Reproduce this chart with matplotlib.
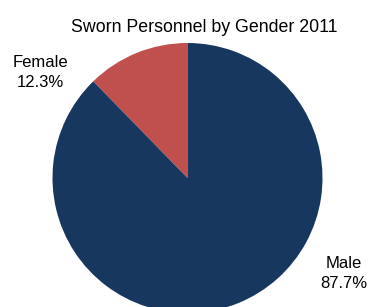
import matplotlib
matplotlib.use("Agg")
import matplotlib.pyplot as plt

categories = ["Female", "Male"]
values = [12.3, 87.7]
colors = ["#C0504D", "#17375E"]
title = "Sworn Personnel by Gender 2011"

W, H = 368, 307
fig = plt.figure(figsize=(W / 100, H / 100), dpi=100)
ax = fig.add_axes([0, 0, 1, 1])

cx, cy, r = 187.5, H - 178, 135
ax.pie(values, colors=colors, startangle=90, counterclock=True,
       center=(cx, cy), radius=r, frame=True,
       wedgeprops=dict(linewidth=0))
ax.set_xlim(0, W)
ax.set_ylim(0, H)
ax.set_aspect("equal")
ax.axis("off")

font = "Liberation Sans"
ax.text(204.5, H - 31.5, title, ha="center", va="baseline", fontsize=12.8, family=font)
label_pos = {"Female": (40.5, H - 67), "Male": (344, H - 268)}
for cat, val in zip(categories, values):
    x, y = label_pos[cat]
    ax.text(x, y, cat, ha="center", va="baseline", fontsize=12, family=font)
    ax.text(x, y - 20, f"{val:.1f}%", ha="center", va="baseline", fontsize=12, family=font)

fig.savefig("out.png", dpi=100)
